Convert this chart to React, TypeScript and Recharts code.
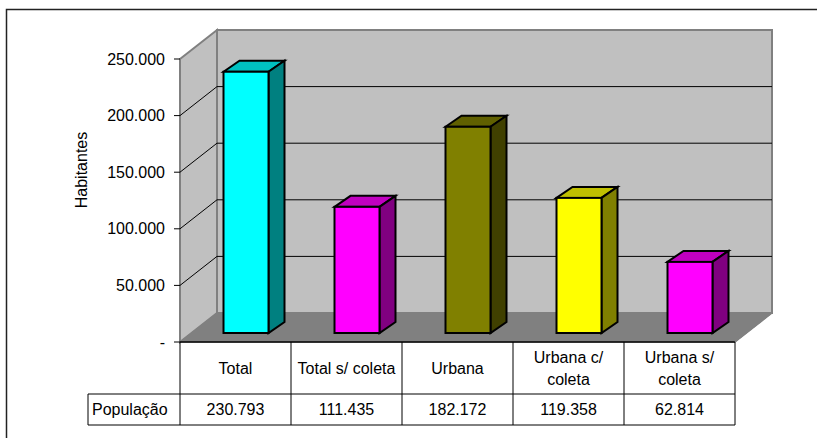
import { BarChart, Bar, XAxis, YAxis, CartesianGrid, Customized } from 'recharts';

// População por situação de coleta
const CATEGORIES = ['Total', 'Total s/ coleta', 'Urbana', 'Urbana c/ coleta', 'Urbana s/ coleta'];
const CATEGORY_LINES = [['Total'], ['Total s/ coleta'], ['Urbana'], ['Urbana c/', 'coleta'], ['Urbana s/', 'coleta']];
const POPULACAO = [230793, 111435, 182172, 119358, 62814];
const Y_TICKS = [0, 50000, 100000, 150000, 200000, 250000];
const ROW_LABEL = 'População';
const AXIS_TITLE = 'Habitantes';

const FACE = ['#00FFFF', '#FF00FF', '#808000', '#FFFF00', '#FF00FF'];
const TOP = ['#00C0C0', '#C000C0', '#606000', '#C0C000', '#C000C0'];
const SIDE = ['#008080', '#800080', '#404000', '#808000', '#800080'];

const FONT = '"Liberation Sans", Arial, sans-serif';
const W = 817;
const H = 438;
const PLOT_LEFT = 180;
const PLOT_RIGHT = 735;
const PLOT_TOP = 59;
const PLOT_BOTTOM = 342;
const WALL = { dx: 37, dy: -29 };
const BAR_SHIFT = { dx: 10.5, dy: -9 };
const BAR_DEPTH = { dx: 16, dy: -11 };
const ROW1_BOTTOM = 394;
const ROW2_BOTTOM = 425;
const ROW_LABEL_LEFT = 88;

const data = CATEGORIES.map((categoria, i) => ({ categoria, populacao: POPULACAO[i] }));

const fmt = (v: number) => (v === 0 ? '-' : String(v).replace(/\B(?=(\d{3})+(?!\d))/g, '.'));

function Walls() {
  const { dx, dy } = WALL;
  return (
    <g>
      {/* back wall */}
      <rect
        x={PLOT_LEFT + dx}
        y={PLOT_TOP + dy}
        width={PLOT_RIGHT - PLOT_LEFT}
        height={PLOT_BOTTOM - PLOT_TOP}
        fill="#C0C0C0"
        stroke="#808080"
        strokeWidth={2}
      />
      {/* side wall */}
      <polygon
        points={`${PLOT_LEFT},${PLOT_TOP} ${PLOT_LEFT + dx},${PLOT_TOP + dy} ${PLOT_LEFT + dx},${PLOT_BOTTOM + dy} ${PLOT_LEFT},${PLOT_BOTTOM}`}
        fill="#C0C0C0"
        stroke="#808080"
        strokeWidth={2}
      />
      {/* floor */}
      <polygon
        points={`${PLOT_LEFT},${PLOT_BOTTOM} ${PLOT_LEFT + dx},${PLOT_BOTTOM + dy} ${PLOT_RIGHT + dx},${PLOT_BOTTOM + dy} ${PLOT_RIGHT},${PLOT_BOTTOM}`}
        fill="#808080"
        stroke="#808080"
        strokeWidth={1}
      />
    </g>
  );
}

// walls go in with the first grid line so every grid line sits on top of them
function GridLine(props: any) {
  const { x1, x2, y1, index } = props;
  const edge = Math.abs(y1 - PLOT_TOP) < 1 || Math.abs(y1 - PLOT_BOTTOM) < 1;
  const { dx, dy } = WALL;
  return (
    <g key={`grid-${index}`}>
      {index === 0 && <Walls />}
      {!edge && (
        <g>
          <line x1={x1} y1={y1} x2={x1 + dx} y2={y1 + dy} stroke="#000" strokeWidth={1} />
          <line x1={x1 + dx} y1={y1 + dy} x2={x2 + dx} y2={y1 + dy} stroke="#000" strokeWidth={1} />
        </g>
      )}
    </g>
  );
}

function Box3D(props: any) {
  const { x, y, width, height, index } = props;
  const fx = x + BAR_SHIFT.dx;
  const fy = y + BAR_SHIFT.dy;
  const { dx, dy } = BAR_DEPTH;
  const r = fx + width;
  const b = fy + height;
  return (
    <g stroke="#000" strokeWidth={2} strokeLinejoin="miter">
      <polygon points={`${fx},${fy} ${fx + dx},${fy + dy} ${r + dx},${fy + dy} ${r},${fy}`} fill={TOP[index]} />
      <polygon points={`${r},${fy} ${r + dx},${fy + dy} ${r + dx},${b + dy} ${r},${b}`} fill={SIDE[index]} />
      <rect x={fx} y={fy} width={width} height={height} fill={FACE[index]} />
    </g>
  );
}

function TableColumn(props: any) {
  const { x, index } = props;
  const half = (PLOT_RIGHT - PLOT_LEFT) / CATEGORIES.length / 2;
  const left = x - half;
  const right = x + half;
  const lines = CATEGORY_LINES[index];
  const mid1 = (PLOT_BOTTOM + ROW1_BOTTOM) / 2;
  const mid2 = (ROW1_BOTTOM + ROW2_BOTTOM) / 2;
  const text = { fontFamily: FONT, fontSize: 16, fill: '#000', textAnchor: 'middle' as const };
  return (
    <g>
      <line x1={left} y1={ROW1_BOTTOM} x2={right} y2={ROW1_BOTTOM} stroke="#000" />
      <line x1={left} y1={ROW2_BOTTOM} x2={right} y2={ROW2_BOTTOM} stroke="#000" />
      <line x1={right} y1={PLOT_BOTTOM} x2={right} y2={ROW2_BOTTOM} stroke="#000" />
      {index === 0 && (
        <g>
          <line x1={left} y1={PLOT_BOTTOM} x2={left} y2={ROW2_BOTTOM} stroke="#000" />
          <line x1={ROW_LABEL_LEFT} y1={ROW1_BOTTOM} x2={left} y2={ROW1_BOTTOM} stroke="#000" />
          <line x1={ROW_LABEL_LEFT} y1={ROW2_BOTTOM} x2={left} y2={ROW2_BOTTOM} stroke="#000" />
          <line x1={ROW_LABEL_LEFT} y1={ROW1_BOTTOM} x2={ROW_LABEL_LEFT} y2={ROW2_BOTTOM} stroke="#000" />
          <text x={ROW_LABEL_LEFT + 4} y={mid2} dy="0.36em" {...text} textAnchor="start">
            {ROW_LABEL}
          </text>
        </g>
      )}
      {lines.map((ln, i) => (
        <text key={i} x={x} y={mid1 + (i - (lines.length - 1) / 2) * 22} dy="0.36em" {...text}>
          {ln}
        </text>
      ))}
      <text x={x} y={mid2} dy="0.36em" {...text}>
        {fmt(POPULACAO[index])}
      </text>
    </g>
  );
}

function Frame() {
  return (
    <g>
      <rect x={6.5} y={9.5} width={W + 40} height={H + 40} fill="none" stroke="#222" strokeWidth={1.5} />
      <line x1={PLOT_LEFT} y1={PLOT_BOTTOM} x2={PLOT_RIGHT} y2={PLOT_BOTTOM} stroke="#000" strokeWidth={1.5} />
      <line x1={PLOT_RIGHT} y1={PLOT_BOTTOM} x2={PLOT_RIGHT + WALL.dx} y2={PLOT_BOTTOM + WALL.dy} stroke="#808080" strokeWidth={1.5} />
      <text
        x={81}
        y={170}
        dy="0.36em"
        transform="rotate(-90 81 170)"
        textAnchor="middle"
        fontFamily={FONT}
        fontSize={16}
        fill="#000"
      >
        {AXIS_TITLE}
      </text>
    </g>
  );
}

export default function App() {
  return (
    <div style={{ position: 'absolute', left: 0, top: 0, width: W, height: H, background: '#fff' }}>
      <BarChart
        width={W}
        height={H}
        data={data}
        margin={{ top: PLOT_TOP, right: W - PLOT_RIGHT, bottom: 0, left: 60 }}
      >
        <CartesianGrid horizontal={GridLine} vertical={false} />
        <XAxis
          dataKey="categoria"
          height={H - PLOT_BOTTOM}
          axisLine={false}
          tickLine={false}
          interval={0}
          tick={TableColumn}
        />
        <YAxis
          width={PLOT_LEFT - 60}
          domain={[0, 250000]}
          ticks={Y_TICKS}
          tickFormatter={fmt}
          tickSize={6}
          tickMargin={9}
          axisLine={false}
          tickLine={{ stroke: '#000' }}
          tick={{ fill: '#000', fontSize: 16, fontFamily: FONT }}
        />
        <Bar dataKey="populacao" barSize={45} shape={Box3D} isAnimationActive={false} />
        <Customized component={Frame} />
      </BarChart>
    </div>
  );
}
